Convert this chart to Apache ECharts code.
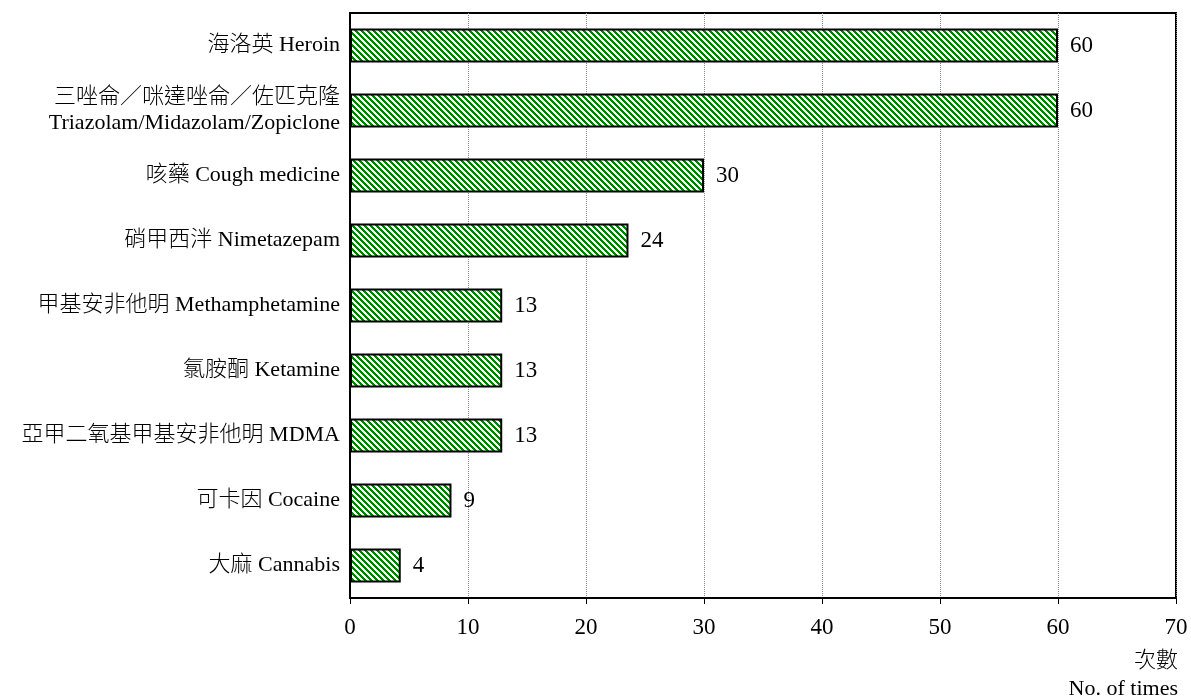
<!DOCTYPE html>
<html>
<head>
<meta charset="utf-8">
<script src="https://cdn.jsdelivr.net/npm/echarts@6/dist/echarts.min.js"></script>
<style>
  html, body { margin: 0; padding: 0; background: #fff; }
  #chart { width: 1191px; height: 698px; }
</style>
</head>
<body>
<div id="chart"></div>
<script>
// 類別（由上至下）
var drugs = [
  '海洛英 Heroin',
  '三唑侖／咪達唑侖／佐匹克隆\nTriazolam/Midazolam/Zopiclone',
  '咳藥 Cough medicine',
  '硝甲西泮 Nimetazepam',
  '甲基安非他明 Methamphetamine',
  '氯胺酮 Ketamine',
  '亞甲二氧基甲基安非他明 MDMA',
  '可卡因 Cocaine',
  '大麻 Cannabis'
]
// 次數（條長）
var times = [60, 60, 30, 23.6, 12.9, 12.9, 12.9, 8.6, 4.3]
// 顯示標籤
var timeLabels = ['60', '60', '30', '24', '13', '13', '13', '9', '4']
var axisTitle = '次數\nNo. of times'

var fontFamily = "'Liberation Serif', 'Noto Sans CJK TC', serif"

// 綠色斜紋（像素階梯）
function makeStripe () {
  var n = 6
  var c = document.createElement('canvas')
  c.width = n
  c.height = n
  var ctx = c.getContext('2d')
  ctx.fillStyle = '#ffffff'
  ctx.fillRect(0, 0, n, n)
  ctx.fillStyle = '#008000'
  for (var y = 0; y < n; y++) {
    for (var x = 0; x < n; x++) {
      if ((((x - y) % n) + n) % n < 3) ctx.fillRect(x, y, 1, 1)
    }
  }
  return c
}

var myChart = echarts.init(document.getElementById('chart'))
var option = {
  animation: false,
  backgroundColor: '#ffffff',
  textStyle: { fontFamily: fontFamily },
  grid: {
    left: 350,
    right: 15,
    top: 13,
    bottom: 100,
    show: true,
    borderColor: '#000',
    borderWidth: 2,
    containLabel: false,
    outerBoundsMode: 'none'
  },
  graphic: [
    {
      type: 'text',
      x: 1178,
      y: 647,
      style: {
        text: axisTitle,
        fill: '#000',
        font: '300 22px ' + fontFamily,
        align: 'right',
        verticalAlign: 'top',
        lineHeight: 28
      }
    }
  ],
  xAxis: {
    type: 'value',
    min: 0,
    max: 70,
    interval: 10,
    axisLine: { show: true, lineStyle: { color: '#000', width: 2 } },
    axisTick: { show: true, length: 6, lineStyle: { color: '#000', width: 1 } },
    axisLabel: { color: '#000', fontSize: 23, margin: 18, fontFamily: fontFamily },
    splitLine: { show: true, lineStyle: { color: '#888', type: 'dotted', width: 1 } }
  },
  yAxis: {
    type: 'category',
    data: drugs,
    inverse: true,
    axisLine: { show: true, lineStyle: { color: '#000', width: 2 } },
    axisTick: { show: false },
    axisLabel: {
      color: '#000',
      fontSize: 22,
      fontWeight: 300,
      margin: 10,
      lineHeight: 26,
      fontFamily: fontFamily
    },
    splitLine: { show: false }
  },
  series: [
    {
      type: 'bar',
      data: times,
      barCategoryGap: '48%',
      itemStyle: {
        color: { image: makeStripe(), repeat: 'repeat' },
        borderColor: '#000',
        borderWidth: 2
      },
      label: {
        show: true,
        position: 'right',
        distance: 12,
        color: '#000',
        fontSize: 23,
        fontFamily: fontFamily,
        formatter: function (p) { return timeLabels[p.dataIndex] }
      }
    }
  ]
}
myChart.setOption(option)
</script>
</body>
</html>
